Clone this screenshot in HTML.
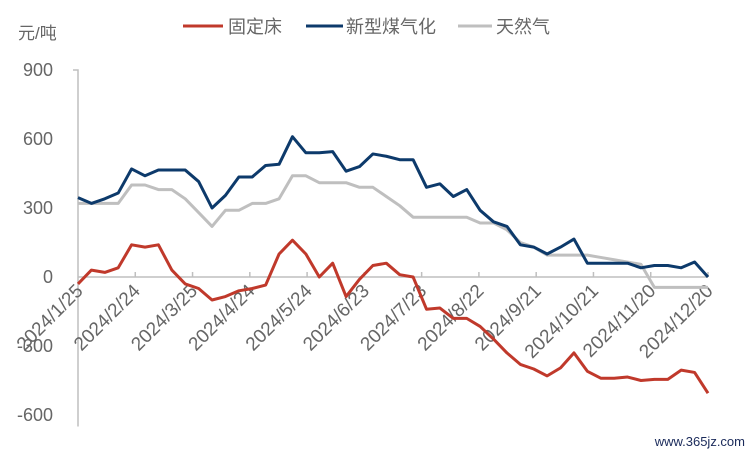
<!DOCTYPE html>
<html><head><meta charset="utf-8"><style>
body{margin:0;background:#fff;width:750px;height:456px;overflow:hidden}
svg text{font-family:"Liberation Sans","Noto Sans CJK SC",sans-serif;fill:#666}
</style></head><body>
<svg id="chart" width="750" height="456" xmlns="http://www.w3.org/2000/svg">
<text x="18" y="39" font-size="17">元/吨</text>
<g>
<line x1="183" y1="26" x2="223" y2="26" stroke="#C0392B" stroke-width="3"/>
<text x="228" y="33" font-size="18">固定床</text>
<line x1="306" y1="26" x2="343" y2="26" stroke="#0D3A6B" stroke-width="3"/>
<text x="346" y="33" font-size="18">新型煤气化</text>
<line x1="458" y1="26" x2="492" y2="26" stroke="#BFBFBF" stroke-width="3"/>
<text x="496" y="33" font-size="18">天然气</text>
</g>
<text x="745" y="446" font-size="13" text-anchor="end" style="fill:#1a2a5a">www.365jz.com</text>
</svg>
<script>
const yTicks=[900,600,300,0,-300,-600];
const xLabels=["2024/1/25","2024/2/24","2024/3/25","2024/4/24","2024/5/24","2024/6/23","2024/7/23","2024/8/22","2024/9/21","2024/10/21","2024/11/20","2024/12/20"];
const fixedBed=[-30,30,20,40,140,130,140,30,-30,-50,-100,-85,-60,-50,-35,100,160,100,0,60,-85,-10,50,60,10,0,-140,-135,-180,-180,-215,-270,-330,-380,-400,-430,-395,-330,-410,-440,-440,-435,-450,-445,-445,-405,-415,-505];
const newCoal=[345,320,340,365,470,440,465,465,465,415,300,355,435,435,485,490,610,540,540,545,460,480,535,525,510,510,390,405,350,380,290,240,220,140,130,100,130,165,60,60,60,60,40,50,50,40,65,0];
const naturalGas=[320,320,320,320,400,400,380,380,340,280,220,290,290,320,320,340,440,440,410,410,410,390,390,350,310,260,260,260,260,260,235,235,205,150,130,95,95,95,95,85,75,65,55,-45,-45,-45,-45,-45];
const svg=document.getElementById('chart');const NS='http://www.w3.org/2000/svg';
const x0=78,x1=708,n=fixedBed.length;
const X=i=>x0+(x1-x0)*i/(n-1);
const Y=v=>277-v*0.23;
function mk(t,a){const e=document.createElementNS(NS,t);for(const k in a)e.setAttribute(k,a[k]);svg.appendChild(e);return e;}
const ax=mk('path',{d:`M${x0-5} ${Y(900)}H${x0}V${Y(-650)}`,fill:'none',stroke:'#BFBFBF','stroke-width':1.5});


yTicks.forEach(v=>{const t=mk('text',{x:53,y:Y(v)+6,'font-size':18,'text-anchor':'end'});t.textContent=v;

});
const xa=mk('line',{x1:x0,y1:Y(0),x2:x1,y2:Y(0),stroke:'#BFBFBF','stroke-width':1.5});


xLabels.forEach((l,k)=>{const x=x0+(x1-x0)*k/(xLabels.length-1);
if(k>0){const tk=mk('line',{x1:x,y1:Y(0),x2:x,y2:Y(0)-5,stroke:'#BFBFBF','stroke-width':1.5});

}
const t=mk('text',{x:x+6,y:Y(0)+15,'font-size':19,'text-anchor':'end',transform:`rotate(-45 ${x+6} ${Y(0)+15})`});t.textContent=l;

});
function line(d,c,name){const p=mk('polyline',{points:d.map((v,i)=>X(i)+','+Y(v)).join(' '),fill:'none',stroke:c,'stroke-width':3,'stroke-linejoin':'round'});

}
line(naturalGas,'#BFBFBF','natural-gas-line');
line(newCoal,'#0D3A6B','new-coal-gasification-line');
line(fixedBed,'#C0392B','fixed-bed-line');
</script>
</body></html>
